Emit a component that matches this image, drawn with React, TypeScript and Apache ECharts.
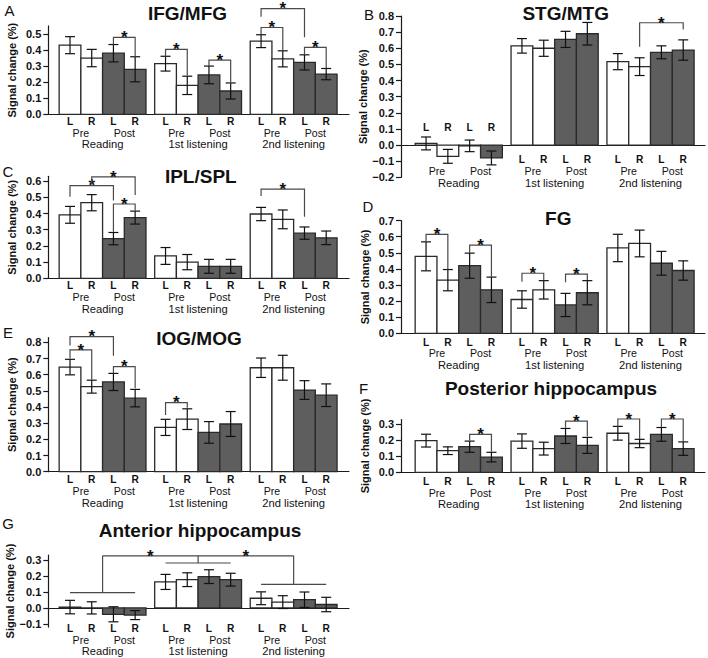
import React, { useEffect, useRef } from "react";
import * as echarts from "echarts";

// ---------- data ----------
const GROUPS = ["Reading", "1st listening", "2nd listening"];
const SESSIONS = ["Pre", "Post"];
const HEMIS = ["L", "R"];

// order within each group: Pre L, Pre R, Post L, Post R
const A_VALUES = [0.43, 0.35, 0.38, 0.28, 0.315, 0.18, 0.245, 0.145, 0.455, 0.345, 0.323, 0.25];
const A_ERRORS = [0.053, 0.054, 0.054, 0.078, 0.046, 0.057, 0.055, 0.05, 0.04, 0.05, 0.047, 0.035];
// [bar1, bar2, level, drop1, drop2]
const A_BRACKETS = [
  [2, 3, 0.479, 0.435, 0.358],
  [4, 5, 0.404, 0.36, 0.24],
  [6, 7, 0.337, 0.3, 0.19],
  [8, 9, 0.54, 0.5, 0.396],
  [10, 11, 0.416, 0.373, 0.286],
  [8, 10, 0.658, 0.607, 0.48],
];
const A_TICKS = [0, 0.1, 0.2, 0.3, 0.4, 0.5];

const B_VALUES = [0.01, -0.07, -0.005, -0.08, 0.615, 0.6, 0.655, 0.69, 0.517, 0.486, 0.575, 0.589];
const B_ERRORS = [0.04, 0.043, 0.036, 0.043, 0.045, 0.05, 0.05, 0.07, 0.05, 0.055, 0.04, 0.063];
const B_BRACKETS = [[9, 11, 0.758, 0.61, 0.717]];
const B_TICKS = [-0.2, -0.1, 0, 0.1, 0.2, 0.3, 0.4, 0.5, 0.6, 0.7, 0.8];

const C_VALUES = [0.392, 0.467, 0.245, 0.375, 0.138, 0.1, 0.074, 0.074, 0.397, 0.364, 0.279, 0.25];
const C_ERRORS = [0.052, 0.05, 0.038, 0.04, 0.052, 0.047, 0.043, 0.043, 0.041, 0.058, 0.038, 0.042];
const C_BRACKETS = [
  [0, 2, 0.572, 0.504, 0.48],
  [1, 3, 0.627, 0.58, 0.514],
  [2, 3, 0.459, 0.288, 0.417],
  [8, 10, 0.551, 0.508, 0.38],
];
const C_TICKS = [0, 0.1, 0.2, 0.3, 0.4, 0.5, 0.6];

const D_VALUES = [0.478, 0.33, 0.42, 0.27, 0.21, 0.27, 0.176, 0.252, 0.53, 0.558, 0.435, 0.39];
const D_ERRORS = [0.09, 0.066, 0.078, 0.079, 0.054, 0.057, 0.072, 0.075, 0.085, 0.083, 0.074, 0.06];
const D_BRACKETS = [
  [0, 1, 0.615, 0.563, 0.397],
  [2, 3, 0.548, 0.5, 0.348],
  [4, 5, 0.373, 0.32, 0.33],
  [6, 7, 0.368, 0.317, 0.331],
];
const D_TICKS = [0, 0.1, 0.2, 0.3, 0.4, 0.5, 0.6, 0.7];

const E_VALUES = [0.647, 0.526, 0.555, 0.455, 0.274, 0.325, 0.243, 0.295, 0.643, 0.643, 0.505, 0.473];
const E_ERRORS = [0.048, 0.04, 0.053, 0.054, 0.05, 0.064, 0.067, 0.077, 0.06, 0.077, 0.058, 0.07];
const E_BRACKETS = [
  [0, 1, 0.753, 0.7, 0.567],
  [2, 3, 0.65, 0.608, 0.516],
  [0, 2, 0.835, 0.78, 0.717],
  [4, 5, 0.427, 0.35, 0.396],
];
const E_TICKS = [0, 0.1, 0.2, 0.3, 0.4, 0.5, 0.6, 0.7, 0.8];

const F_VALUES = [0.198, 0.135, 0.16, 0.095, 0.195, 0.148, 0.227, 0.168, 0.244, 0.18, 0.237, 0.148];
const F_ERRORS = [0.04, 0.024, 0.035, 0.03, 0.045, 0.04, 0.047, 0.05, 0.043, 0.026, 0.043, 0.042];
const F_BRACKETS = [
  [2, 3, 0.237, 0.2, 0.129],
  [6, 7, 0.32, 0.279, 0.223],
  [8, 9, 0.333, 0.285, 0.208],
  [10, 11, 0.333, 0.281, 0.19],
];
const F_TICKS = [0, 0.1, 0.2, 0.3];

const G_VALUES = [0.005, 0.0, -0.04, -0.045, 0.162, 0.176, 0.195, 0.176, 0.06, 0.036, 0.051, 0.021];
const G_ERRORS = [0.042, 0.038, 0.047, 0.028, 0.047, 0.043, 0.043, 0.04, 0.04, 0.04, 0.048, 0.045];
const G_GROUP_LEVELS = [0.095, 0.28, 0.147];
const G_TOP_LEVEL = 0.325;
const G_STAR_PAIRS = [
  [0, 1],
  [1, 2],
];
const G_TICKS = [-0.1, 0, 0.1, 0.2, 0.3];

// ---------- style / layout ----------
const FONT = "'Liberation Sans', Arial, Helvetica, sans-serif";
const INK = "#111111";
const DARK = "#5e5e5e";
const BORDER = "#2a2a2a";
const BRACKET = "#4a4a4a";
const GROUP_STEP = 4.4;
const xpos = (k: number) => Math.floor(k / 4) * GROUP_STEP + (k % 4) + 0.5;
const groupCenter = (g: number) => g * GROUP_STEP + 2;

const LEFT_COL = { left: 48.3, width: 300.7, xMin: -0.5, xMax: 13.35 };
const RIGHT_COL = { left: 401, width: 304, xMin: -0.65, xMax: 13.3 };

type Panel = {
  title: string;
  letter: string;
  values: number[];
  errors: number[];
  brackets: number[][];
  ticks: number[];
  yMin: number;
  yMax: number;
  col: typeof LEFT_COL;
  top: number;
  height: number;
  titlePos: number[];
  letterPos: number[];
  lr: number[];
  pp: number;
  grp: number;
};

const PANELS: Panel[] = [
  { title: "IFG/MFG", letter: "A", values: A_VALUES, errors: A_ERRORS, brackets: A_BRACKETS, ticks: A_TICKS,
    yMin: 0, yMax: 0.55, col: LEFT_COL, top: 25.9, height: 88.4, titlePos: [187.5, 13.7], letterPos: [9.5, 10.8],
    lr: [7, 7, 7], pp: 18.2, grp: 30 },
  { title: "STG/MTG", letter: "B", values: B_VALUES, errors: B_ERRORS, brackets: B_BRACKETS, ticks: B_TICKS,
    yMin: -0.2, yMax: 0.8, col: RIGHT_COL, top: 16, height: 161.3, titlePos: [565.7, 13.7], letterPos: [369, 14.7],
    lr: [-49.6, -17.6, -17.6], pp: -6.5, grp: 5.3 },
  { title: "IPL/SPL", letter: "C", values: C_VALUES, errors: C_ERRORS, brackets: C_BRACKETS, ticks: C_TICKS,
    yMin: 0, yMax: 0.63, col: LEFT_COL, top: 176.3, height: 102, titlePos: [200.8, 176.2], letterPos: [8, 171],
    lr: [7.6, 7.6, 7.6], pp: 18.8, grp: 30.5 },
  { title: "FG", letter: "D", values: D_VALUES, errors: D_ERRORS, brackets: D_BRACKETS, ticks: D_TICKS,
    yMin: 0, yMax: 0.7, col: RIGHT_COL, top: 220.6, height: 112.7, titlePos: [558.3, 218.2], letterPos: [368, 206.7],
    lr: [8.8, 8.8, 8.8], pp: 20, grp: 31.2 },
  { title: "IOG/MOG", letter: "E", values: E_VALUES, errors: E_ERRORS, brackets: E_BRACKETS, ticks: E_TICKS,
    yMin: 0, yMax: 0.83, col: LEFT_COL, top: 337.5, height: 134.2, titlePos: [199, 338.2], letterPos: [8, 332.5],
    lr: [8, 8, 8], pp: 19.2, grp: 30.8 },
  { title: "Posterior hippocampus", letter: "F", values: F_VALUES, errors: F_ERRORS, brackets: F_BRACKETS, ticks: F_TICKS,
    yMin: 0, yMax: 0.33, col: RIGHT_COL, top: 419.5, height: 52.8, titlePos: [551, 388.9], letterPos: [363.5, 388.3],
    lr: [9.4, 9.4, 9.4], pp: 20.6, grp: 32 },
  { title: "Anterior hippocampus", letter: "G", values: G_VALUES, errors: G_ERRORS, brackets: [], ticks: G_TICKS,
    yMin: -0.12, yMax: 0.33, col: LEFT_COL, top: 555, height: 72.1, titlePos: [200, 530.5], letterPos: [8, 523.3],
    lr: [1.4, 1.4, 1.4], pp: 12.6, grp: 24.3 },
];

const fmt = (v: number) => (v < -1e-9 ? "\u2212" : "") + Math.abs(v).toFixed(1);

function txt(x: number, y: number, text: string, size: number, weight: string) {
  return {
    type: "text",
    x,
    y,
    style: {
      text,
      fill: INK,
      fontSize: size,
      fontWeight: weight,
      fontFamily: FONT,
      align: "center",
      verticalAlign: "middle",
    },
  };
}

function barSeries(p: Panel, i: number) {
  return {
    type: "custom",
    xAxisIndex: i,
    yAxisIndex: i,
    clip: false,
    silent: true,
    data: p.values.map((v, k) => [xpos(k), v, p.errors[k], k % 4 >= 2 ? 1 : 0]),
    renderItem: (_params: any, api: any) => {
      const x = api.value(0);
      const v = api.value(1);
      const e = api.value(2);
      const post = api.value(3);
      const a = api.coord([x - 0.5, 0]);
      const b = api.coord([x + 0.5, v]);
      const hi = api.coord([x, v + e]);
      const lo = api.coord([x, v - e]);
      const cx = hi[0];
      const cap = 5;
      const lineStyle = { stroke: INK, lineWidth: 1.2 };
      return {
        type: "group",
        children: [
          {
            type: "rect",
            shape: { x: a[0], y: Math.min(a[1], b[1]), width: b[0] - a[0], height: Math.abs(b[1] - a[1]) },
            style: { fill: post ? DARK : "#ffffff", stroke: BORDER, lineWidth: 1.3 },
          },
          { type: "line", shape: { x1: cx, y1: hi[1], x2: cx, y2: lo[1] }, style: lineStyle },
          { type: "line", shape: { x1: cx - cap, y1: hi[1], x2: cx + cap, y2: hi[1] }, style: lineStyle },
          { type: "line", shape: { x1: cx - cap, y1: lo[1], x2: cx + cap, y2: lo[1] }, style: lineStyle },
        ],
      };
    },
  };
}

function bracketSeries(p: Panel, i: number) {
  return {
    type: "custom",
    xAxisIndex: i,
    yAxisIndex: i,
    clip: false,
    silent: true,
    data: p.brackets.map(([k1, k2, lv, d1, d2]) => [xpos(k1), lv, xpos(k2), d1, d2]),
    renderItem: (_params: any, api: any) => {
      const x1 = api.value(0);
      const lv = api.value(1);
      const x2 = api.value(2);
      const p1 = api.coord([x1, api.value(3)]);
      const p2 = api.coord([x1, lv]);
      const p3 = api.coord([x2, lv]);
      const p4 = api.coord([x2, api.value(4)]);
      return {
        type: "group",
        children: [
          {
            type: "polyline",
            shape: { points: [p1, p2, p3, p4] },
            style: { stroke: BRACKET, lineWidth: 1.2, fill: "none" },
          },
          txt((p2[0] + p3[0]) / 2, p2[1] + 0.3, "*", 17, "bold"),
        ],
      };
    },
  };
}

function labelSeries(p: Panel, i: number) {
  return {
    type: "custom",
    xAxisIndex: i,
    yAxisIndex: i,
    clip: false,
    silent: true,
    data: GROUPS.map((_n, g) => [groupCenter(g), p.yMin, g]),
    renderItem: (_params: any, api: any) => {
      const g = api.value(2);
      const base = api.coord([groupCenter(g), p.yMin])[1];
      const children: any[] = [];
      for (let j = 0; j < 4; j++) {
        const x = api.coord([xpos(g * 4 + j), p.yMin])[0];
        children.push(txt(x, base + p.lr[g], HEMIS[j % 2], 10.2, "bold"));
      }
      for (let s = 0; s < 2; s++) {
        const x = api.coord([(xpos(g * 4 + 2 * s) + xpos(g * 4 + 2 * s + 1)) / 2, p.yMin])[0];
        children.push(txt(x, base + p.pp, SESSIONS[s], 10.6, "normal"));
      }
      children.push(txt(api.coord([groupCenter(g), p.yMin])[0], base + p.grp, GROUPS[g], 11.2, "normal"));
      return { type: "group", children };
    },
  };
}

function gGroupSeries(i: number) {
  const lineStyle = { stroke: BRACKET, lineWidth: 1.2 };
  return [
    {
      type: "custom",
      xAxisIndex: i,
      yAxisIndex: i,
      clip: false,
      silent: true,
      data: G_GROUP_LEVELS.map((lv, g) => [xpos(4 * g), lv, xpos(4 * g + 3), G_TOP_LEVEL, groupCenter(g)]),
      renderItem: (_params: any, api: any) => {
        const a = api.coord([api.value(0), api.value(1)]);
        const b = api.coord([api.value(2), api.value(1)]);
        const c0 = api.coord([api.value(4), api.value(1)]);
        const c1 = api.coord([api.value(4), api.value(3)]);
        return {
          type: "group",
          children: [
            { type: "line", shape: { x1: a[0], y1: a[1], x2: b[0], y2: b[1] }, style: lineStyle },
            { type: "line", shape: { x1: c0[0], y1: c0[1], x2: c1[0], y2: c1[1] }, style: lineStyle },
          ],
        };
      },
    },
    {
      type: "custom",
      xAxisIndex: i,
      yAxisIndex: i,
      clip: false,
      silent: true,
      data: [[groupCenter(0), G_TOP_LEVEL, groupCenter(GROUPS.length - 1)]],
      renderItem: (_params: any, api: any) => {
        const a = api.coord([api.value(0), api.value(1)]);
        const b = api.coord([api.value(2), api.value(1)]);
        return { type: "line", shape: { x1: a[0], y1: a[1], x2: b[0], y2: b[1] }, style: lineStyle };
      },
    },
    {
      type: "custom",
      xAxisIndex: i,
      yAxisIndex: i,
      clip: false,
      silent: true,
      data: G_STAR_PAIRS.map(([a, b]) => [(groupCenter(a) + groupCenter(b)) / 2, G_TOP_LEVEL]),
      renderItem: (_params: any, api: any) => {
        const pt = api.coord([api.value(0), api.value(1)]);
        return txt(pt[0], pt[1] + 0.3, "*", 17, "bold");
      },
    },
  ];
}

function buildOption() {
  const axisLineStyle = { color: "#1a1a1a", width: 1.2 };
  const series: any[] = [];
  PANELS.forEach((p, i) => {
    series.push(barSeries(p, i));
    if (p.brackets.length) series.push(bracketSeries(p, i));
    series.push(labelSeries(p, i));
    if (p.letter === "G") series.push(...gGroupSeries(i));
  });
  const graphicEls: any[] = [];
  PANELS.forEach((p) => {
    graphicEls.push(txt(p.titlePos[0], p.titlePos[1], p.title, 19, "bold"));
    graphicEls.push(txt(p.letterPos[0], p.letterPos[1], p.letter, 15, "normal"));
  });
  return {
    animation: false,
    backgroundColor: "#ffffff",
    textStyle: { fontFamily: FONT },
    grid: PANELS.map((p) => ({ left: p.col.left, width: p.col.width, top: p.top, height: p.height })),
    xAxis: PANELS.map((p, i) => ({
      type: "value",
      gridIndex: i,
      min: p.col.xMin,
      max: p.col.xMax,
      axisLine: { show: true, onZero: true, lineStyle: axisLineStyle },
      axisTick: { show: false },
      axisLabel: { show: false },
      splitLine: { show: false },
    })),
    yAxis: PANELS.map((p, i) => ({
      type: "value",
      gridIndex: i,
      min: p.yMin,
      max: p.yMax,
      position: "left",
      axisLine: { show: true, onZero: false, lineStyle: axisLineStyle },
      axisTick: { show: true, length: 5, inside: false, customValues: p.ticks, lineStyle: axisLineStyle },
      axisLabel: {
        customValues: p.ticks,
        formatter: fmt,
        color: INK,
        fontSize: 11,
        fontWeight: "bold",
        fontFamily: FONT,
        margin: 7,
      },
      splitLine: { show: false },
      name: "Signal change (%)",
      nameLocation: "middle",
      nameGap: 31,
      nameTextStyle: { color: INK, fontSize: 11, fontWeight: "bold", fontFamily: FONT },
    })),
    graphic: { elements: graphicEls },
    series,
  };
}

export default function App() {
  const ref = useRef<HTMLDivElement>(null);
  useEffect(() => {
    if (!ref.current) return;
    const chart = echarts.init(ref.current, undefined, { renderer: "svg" });
    chart.setOption(buildOption() as any);
    return () => chart.dispose();
  }, []);
  return (
    <div
      ref={ref}
      style={{ position: "absolute", left: 0, top: 0, width: 708, height: 658, background: "#fff" }}
    />
  );
}
